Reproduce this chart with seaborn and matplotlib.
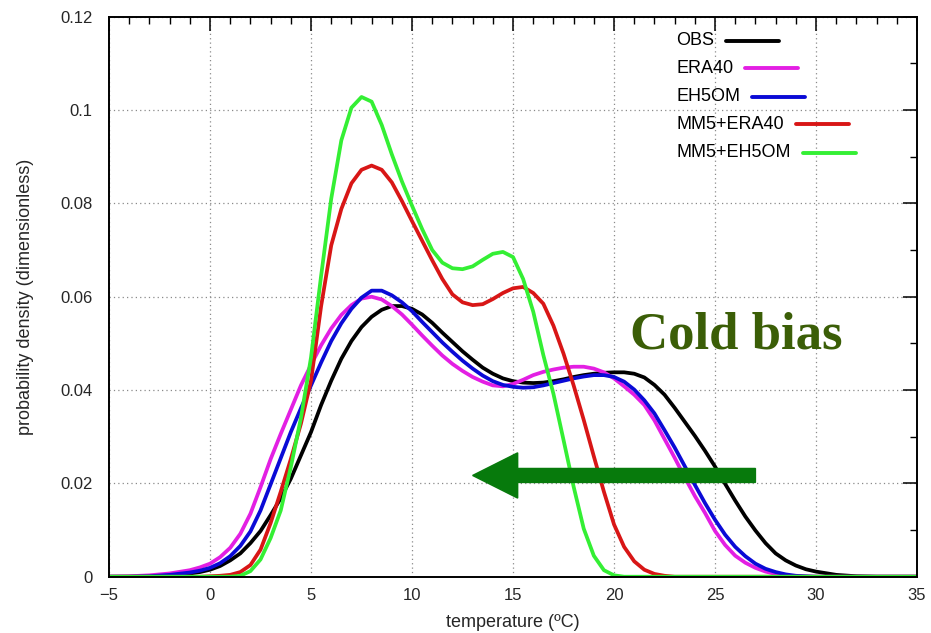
import matplotlib
matplotlib.use("Agg")
import matplotlib.pyplot as plt
from matplotlib.lines import Line2D
from matplotlib.patches import FancyArrow
from matplotlib.ticker import MultipleLocator, FixedLocator, FixedFormatter
import numpy as np
import pandas as pd
import seaborn as sns

# Temperature grid (degC) shared by all curves
temperature = [-5, -4, -3, -2, -1, -0.5,
               0, 0.5, 1, 1.5, 2, 2.5, 3, 3.5, 4, 4.5,
               5, 5.5, 6, 6.5, 7, 7.5, 8, 8.5, 9, 9.5,
               10, 10.5, 11, 11.5, 12, 12.5, 13, 13.5, 14, 14.5,
               15, 15.5, 16, 16.5, 17, 17.5, 18, 18.5, 19, 19.5,
               20, 20.5, 21, 21.5, 22, 22.5, 23, 23.5, 24, 24.5,
               25, 25.5, 26, 26.5, 27, 27.5, 28, 28.5, 29, 29.5,
               30, 31, 32, 33, 34, 35]

# Probability density of daily temperature for each data set
obs = [0, 0, 0.0001, 0.0003, 0.0007, 0.001,
       0.0015, 0.0023, 0.0035, 0.005, 0.0072, 0.0098, 0.0132, 0.0168, 0.021, 0.026,
       0.031, 0.0368, 0.042, 0.0467, 0.0505, 0.0535, 0.0557, 0.0572, 0.058, 0.058,
       0.0574, 0.0562, 0.0544, 0.0523, 0.0503, 0.0483, 0.0465, 0.0448, 0.0435, 0.0425,
       0.0419, 0.0416, 0.0415, 0.0416, 0.0419, 0.0423, 0.0428, 0.0432, 0.0435, 0.0437,
       0.0438, 0.0438, 0.0435, 0.0427, 0.0411, 0.039, 0.0362, 0.0332, 0.0302, 0.027,
       0.0236, 0.0199, 0.0163, 0.0129, 0.0099, 0.0072, 0.005, 0.0035, 0.0024, 0.0016,
       0.0011, 0.0004, 0.0001, 0, 0, 0]

era40 = [0, 0.0001, 0.0003, 0.0007, 0.0014, 0.002,
         0.0028, 0.0042, 0.0062, 0.0092, 0.0135, 0.0192, 0.0252, 0.0306, 0.0358, 0.041,
         0.0454, 0.0496, 0.0532, 0.0561, 0.0582, 0.0596, 0.06, 0.0594, 0.058, 0.0562,
         0.054, 0.0517, 0.0495, 0.0474, 0.0456, 0.0441, 0.0428, 0.0418, 0.041, 0.0408,
         0.0413, 0.0422, 0.0432, 0.0439, 0.0444, 0.0448, 0.045, 0.045, 0.0446, 0.0438,
         0.0425, 0.0408, 0.039, 0.0368, 0.0335, 0.0295, 0.0255, 0.0213, 0.0173, 0.0137,
         0.0098, 0.0068, 0.0045, 0.003, 0.0019, 0.0011, 0.0006, 0.0003, 0.0001, 0,
         0, 0, 0, 0, 0, 0]

eh5om = [0, 0, 0.0001, 0.0004, 0.0009, 0.0013,
         0.0019, 0.0029, 0.0044, 0.0066, 0.0097, 0.0142, 0.0198, 0.0254, 0.031, 0.0361,
         0.041, 0.0459, 0.0505, 0.0543, 0.0574, 0.0598, 0.0613, 0.0613, 0.0603, 0.0588,
         0.0569, 0.0546, 0.0524, 0.0502, 0.0482, 0.0463, 0.0446, 0.0431, 0.0419, 0.0411,
         0.0407, 0.0405, 0.0406, 0.041, 0.0415, 0.042, 0.0425, 0.0429, 0.0432, 0.0432,
         0.0428, 0.0418, 0.0401, 0.0378, 0.035, 0.0314, 0.0277, 0.0237, 0.0197, 0.0158,
         0.0122, 0.009, 0.0064, 0.0044, 0.0028, 0.0017, 0.001, 0.0005, 0.0002, 0.0001,
         0, 0, 0, 0, 0, 0]

mm5_era40 = [0, 0, 0, 0, 0, 0,
             0.0001, 0.0002, 0.0004, 0.001, 0.0025, 0.0058, 0.0115, 0.0182, 0.0252, 0.0328,
             0.042, 0.058, 0.071, 0.0788, 0.0843, 0.0872, 0.0881, 0.0872, 0.0845, 0.0805,
             0.0762, 0.072, 0.0678, 0.0638, 0.0605, 0.0588, 0.0582, 0.0584, 0.0595, 0.0608,
             0.0618, 0.0621, 0.0608, 0.0585, 0.0538, 0.0478, 0.041, 0.0336, 0.0258, 0.0182,
             0.0112, 0.0064, 0.0033, 0.0015, 0.0006, 0.0002, 0, 0, 0, 0,
             0, 0, 0, 0, 0, 0, 0, 0, 0, 0,
             0, 0, 0, 0, 0, 0]

mm5_eh5om = [0, 0, 0, 0, 0, 0,
             0, 0, 0, 0.0002, 0.0012, 0.0037, 0.0083, 0.0142, 0.0235, 0.034,
             0.047, 0.0645, 0.081, 0.0935, 0.1005, 0.1028, 0.1018, 0.0968, 0.0905, 0.0847,
             0.0795, 0.0745, 0.07, 0.0673, 0.0661, 0.0659, 0.0665, 0.0679, 0.0692, 0.0696,
             0.0685, 0.0638, 0.0568, 0.0475, 0.0392, 0.0293, 0.0193, 0.0103, 0.0045, 0.0014,
             0.0003, 0, 0, 0, 0, 0, 0, 0, 0, 0,
             0, 0, 0, 0, 0, 0, 0, 0, 0, 0,
             0, 0, 0, 0, 0, 0]

series_names = ["OBS", "ERA40", "EH5OM", "MM5+ERA40", "MM5+EH5OM"]
series_values = [obs, era40, eh5om, mm5_era40, mm5_eh5om]
series_colors = ["#000000", "#e31fe3", "#0a0ad6", "#d81616", "#34ef34"]

x_ticks = [-5, 0, 5, 10, 15, 20, 25, 30, 35]
y_ticks = [0, 0.02, 0.04, 0.06, 0.08, 0.1, 0.12]
y_tick_labels = ["0", "0.02", "0.04", "0.06", "0.08", "0.1", "0.12"]

df = pd.DataFrame({
    "temperature": np.tile(temperature, len(series_names)),
    "density": np.concatenate(series_values),
    "series": np.repeat(series_names, len(temperature)),
})

sns.set_style("white")
plt.rcParams["font.family"] = ["Liberation Sans", "DejaVu Sans"]

fig = plt.figure(figsize=(9.31, 6.33), dpi=100)
ax = fig.add_axes([0.1171, 0.0889, 0.8679, 0.8847])

sns.lineplot(data=df, x="temperature", y="density", hue="series",
             hue_order=series_names, palette=dict(zip(series_names, series_colors)),
             estimator=None, sort=False, linewidth=2.7, legend=False, ax=ax,
             solid_joinstyle="round", solid_capstyle="round")

ax.set_xlim(-5, 35)
ax.set_ylim(0, 0.12)
ax.xaxis.set_major_locator(FixedLocator(x_ticks))
ax.xaxis.set_minor_locator(MultipleLocator(1))
ax.yaxis.set_major_locator(FixedLocator(y_ticks))
ax.yaxis.set_major_formatter(FixedFormatter(y_tick_labels))
ax.yaxis.set_minor_locator(MultipleLocator(0.01))
ax.tick_params(which="both", direction="in", top=True, right=True, color="black")
ax.tick_params(which="major", length=10, width=1.1, labelsize=12)
ax.tick_params(which="minor", length=5, width=1.0)
ax.tick_params(axis="x", which="major", pad=8)
ax.tick_params(axis="y", which="major", pad=12)
for s in ax.spines.values():
    s.set_color("black")
    s.set_linewidth(1.4)

ax.set_axisbelow(True)
ax.grid(True, which="major", color="#8a8a8a", linestyle=(0, (1, 2.5)), linewidth=0.9)

ax.set_xlabel("temperature (ºC)", fontsize=13, labelpad=8)
ax.set_ylabel("probability density (dimensionless)", fontsize=13, labelpad=19)

# Cold-bias annotation: shift of the modelled distributions towards lower temperatures
ax.add_patch(FancyArrow(27, 0.0217, -14, 0, width=0.003, head_width=0.0097,
                        head_length=2.23, length_includes_head=True,
                        color="#077a0c", zorder=5))
ax.text(20.8, 0.049, "Cold bias", family=["Liberation Serif", "DejaVu Serif"],
        weight="bold", fontsize=38, color="#3b5e07", ha="left", va="baseline")

# Key: label followed by a short line sample
legend_y = [0.957, 0.908, 0.857, 0.808, 0.757]
fig.canvas.draw()
renderer = fig.canvas.get_renderer()
inv = ax.transAxes.inverted()
for name, color, yy in zip(series_names, series_colors, legend_y):
    t = ax.text(0.7017, yy, name, transform=ax.transAxes, ha="left", va="center",
                fontsize=13, color="black")
    bb = t.get_window_extent(renderer)
    fx0 = inv.transform((bb.x1 + 12, 0))[0]
    fx1 = inv.transform((bb.x1 + 65, 0))[0]
    ax.add_line(Line2D([fx0, fx1], [yy, yy], transform=ax.transAxes,
                       color=color, linewidth=2.8, clip_on=False))

fig.savefig("out.png", dpi=100)
